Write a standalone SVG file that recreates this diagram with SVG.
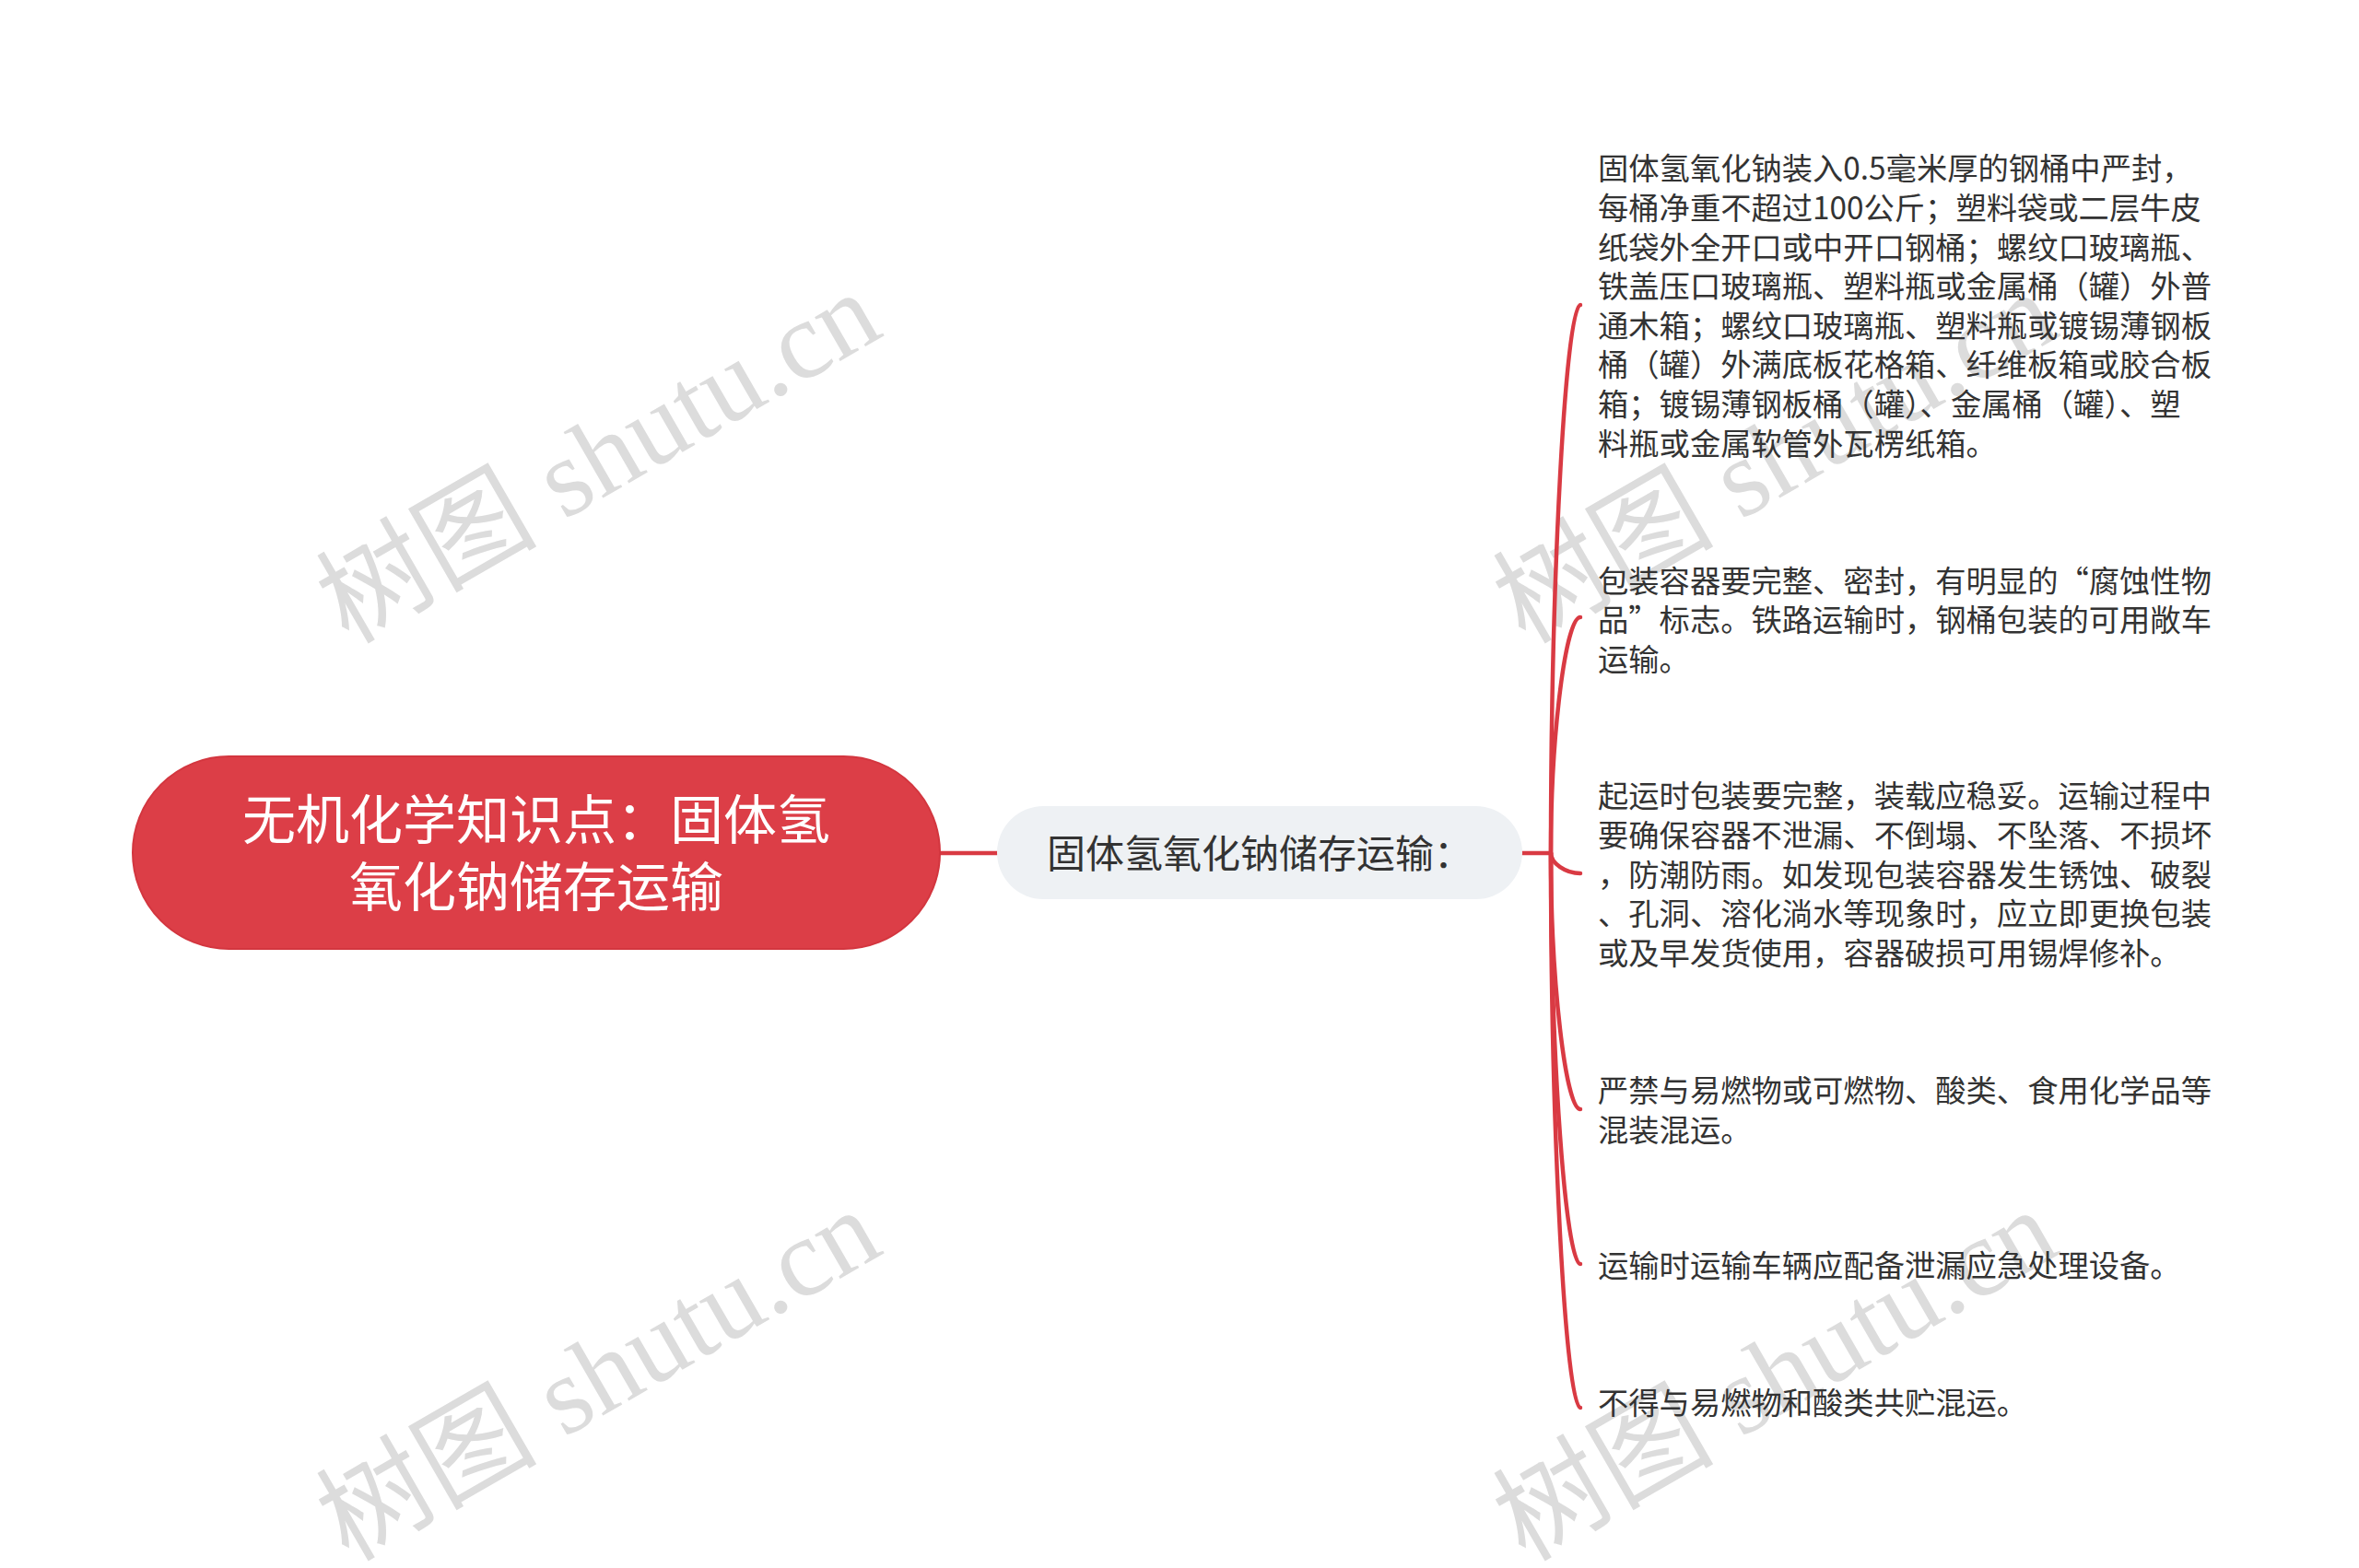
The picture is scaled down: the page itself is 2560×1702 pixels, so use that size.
<svg xmlns="http://www.w3.org/2000/svg" width="2560" height="1702" viewBox="0 0 2560 1702">
<style>
.wm{font-family:"Liberation Serif","Noto Sans CJK SC",serif;font-size:120px;fill:#dcdcdc}
.root-t{font-family:"Noto Sans CJK SC","Noto Sans",sans-serif;font-size:58px;fill:#ffffff;text-anchor:middle}
.sub-t{font-family:"Noto Sans CJK SC","Noto Sans",sans-serif;font-size:42px;fill:#333333;text-anchor:middle}
.leaf-t{font-family:"Noto Sans CJK SC","Noto Sans",sans-serif;font-size:33.3px;fill:#333333}
.edge{fill:none;stroke:#d93a43;stroke-width:4.5;stroke-linecap:round}
</style>
<rect width="2560" height="1702" fill="#ffffff"/>
<g id="watermarks">
<text class="wm" x="378" y="700" transform="rotate(-30 378 700)">树图 shutu.cn</text>
<text class="wm" x="378" y="1696" transform="rotate(-30 378 1696)">树图 shutu.cn</text>
<text class="wm" x="1655" y="700" transform="rotate(-30 1655 700)">树图 shutu.cn</text>
<text class="wm" x="1655" y="1696" transform="rotate(-30 1655 1696)">树图 shutu.cn</text>
</g>
<g id="connectors">
<path class="edge" d="M1020 926 H1082"/>
<path class="edge" d="M1652 926 H1683"/>
<path class="edge" d="M1683 926 C1683 628.5 1699 331 1715 331"/>
<path class="edge" d="M1683 926 C1683 798 1699 670 1715 670"/>
<path class="edge" d="M1683 926 C1683 937 1699 948 1715 948"/>
<path class="edge" d="M1683 926 C1683 1065 1699 1204 1715 1204"/>
<path class="edge" d="M1683 926 C1683 1149 1699 1372 1715 1372"/>
<path class="edge" d="M1683 926 C1683 1227 1699 1528 1715 1528"/>
</g>
<g id="root">
<rect x="144" y="821" width="876" height="209" rx="104.5" fill="#dc3e47" stroke="#d3363f" stroke-width="2"/>
<text class="root-t" x="582" y="911">无机化学知识点：固体氢</text>
<text class="root-t" x="582" y="984">氧化钠储存运输</text>
</g>
<g id="sub">
<rect x="1082" y="875" width="570" height="101" rx="50.5" fill="#eef1f4"/>
<text class="sub-t" x="1367" y="942">固体氢氧化钠储存运输：</text>
</g>
<g id="leaf1">
<text class="leaf-t" x="1734" y="195">固体氢氧化钠装入0.5毫米厚的钢桶中严封，</text>
<text class="leaf-t" x="1734" y="238">每桶净重不超过100公斤；塑料袋或二层牛皮</text>
<text class="leaf-t" x="1734" y="281">纸袋外全开口或中开口钢桶；螺纹口玻璃瓶、</text>
<text class="leaf-t" x="1734" y="323">铁盖压口玻璃瓶、塑料瓶或金属桶（罐）外普</text>
<text class="leaf-t" x="1734" y="366">通木箱；螺纹口玻璃瓶、塑料瓶或镀锡薄钢板</text>
<text class="leaf-t" x="1734" y="408">桶（罐）外满底板花格箱、纤维板箱或胶合板</text>
<text class="leaf-t" x="1734" y="451">箱；镀锡薄钢板桶（罐）、金属桶（罐）、塑</text>
<text class="leaf-t" x="1734" y="494">料瓶或金属软管外瓦楞纸箱。</text>
</g>
<g id="leaf2">
<text class="leaf-t" x="1734" y="643">包装容器要完整、密封，有明显的“腐蚀性物</text>
<text class="leaf-t" x="1734" y="685">品”标志。铁路运输时，钢桶包装的可用敞车</text>
<text class="leaf-t" x="1734" y="728">运输。</text>
</g>
<g id="leaf3">
<text class="leaf-t" x="1734" y="876">起运时包装要完整，装载应稳妥。运输过程中</text>
<text class="leaf-t" x="1734" y="919">要确保容器不泄漏、不倒塌、不坠落、不损坏</text>
<text class="leaf-t" x="1734" y="962">，防潮防雨。如发现包装容器发生锈蚀、破裂</text>
<text class="leaf-t" x="1734" y="1004">、孔洞、溶化淌水等现象时，应立即更换包装</text>
<text class="leaf-t" x="1734" y="1047">或及早发货使用，容器破损可用锡焊修补。</text>
</g>
<g id="leaf4">
<text class="leaf-t" x="1734" y="1196">严禁与易燃物或可燃物、酸类、食用化学品等</text>
<text class="leaf-t" x="1734" y="1239">混装混运。</text>
</g>
<g id="leaf5">
<text class="leaf-t" x="1734" y="1386">运输时运输车辆应配备泄漏应急处理设备。</text>
</g>
<g id="leaf6">
<text class="leaf-t" x="1734" y="1535">不得与易燃物和酸类共贮混运。</text>
</g>
</svg>
